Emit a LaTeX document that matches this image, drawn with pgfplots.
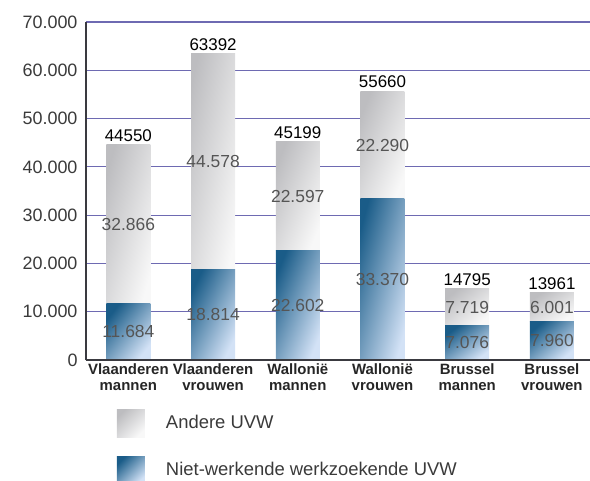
\documentclass[border=0pt]{standalone}
\usepackage{pgfplots}
\pgfplotsset{compat=1.18}
\usepackage{pgfplotstable}
\usepackage{fontspec}
\setmainfont{Liberation Sans}
\usetikzlibrary{calc}
\definecolor{gridc}{HTML}{6E6AB2}
\definecolor{axc}{HTML}{3A3A40}
\definecolor{blueA}{HTML}{1A5C88}
\definecolor{blueB}{HTML}{D3E2F6}
\definecolor{grayA}{HTML}{BDBDC0}
\definecolor{grayB}{HTML}{F8F8F8}
\definecolor{lab}{HTML}{555555}
\definecolor{tick}{HTML}{3A3A3A}

% values in thousands (labels), totals in units
\pgfplotstableread{
x niet andere tot total
0 11.684 32.866 44.550 44550
1 18.814 44.578 63.392 63392
2 22.602 22.597 45.199 45199
3 33.370 22.290 55.660 55660
4 7.076 7.719 14.795 14795
5 7.960 6.001 13.961 13961
}\data

\pgfplotsset{
  base/.style={scale only axis, width=504bp, height=338bp,
    xmin=-0.5, xmax=5.45, ymin=0, ymax=70, at={(0,0)}, anchor=south west},
  catax/.style={base, hide axis, ybar stacked, bar width=44bp},
  bluebar/.style={draw=none, top color=blueA, bottom color=blueB, shading angle=#1},
  graybar/.style={draw=none, top color=grayA, bottom color=grayB, shading angle=#1},
  seglab/.style={draw=none, mark=none, point meta=explicit,
    nodes near coords={\pgfmathprintnumber[fixed,precision=3,zerofill]{\pgfplotspointmeta}},
    every node near coord/.append style={anchor=center, text=lab, font=\fontsize{17.5}{19}\selectfont}},
}
% #1 x, #2 bottom value, #3 top value, #4/#5 gradient angles (corner to corner)
\newcommand\cat[5]{%
\begin{axis}[catax]
\addplot[bluebar=#4] coordinates {(#1,#2)};
\addplot[graybar=#5] coordinates {(#1,#3)};
\end{axis}}

\begin{document}
\begin{tikzpicture}
% main axis: grid, ticks, legend
\begin{axis}[base,
  name=ax,
  legend image code/.code={\path[#1] (0bp,-14bp) rectangle (28bp,14bp);},
  axis x line*=bottom, axis y line*=left,
  x axis line style={axc, line width=1.8bp},
  y axis line style={axc, line width=1.2bp},
  ytick={0,10,...,70},
  yticklabels={0,10.000,20.000,30.000,40.000,50.000,60.000,70.000},
  ymajorgrids, major grid style={gridc, line width=1.2bp},
  xtick={0,...,5},
  xticklabels={{Vlaanderen\\mannen},{Vlaanderen\\vrouwen},{Wallonië\\mannen},{Wallonië\\vrouwen},{Brussel\\mannen},{Brussel\\vrouwen}},
  xticklabel style={align=center, font=\bfseries\fontsize{15}{16.5}\selectfont, text=black!85},
  yticklabel style={font=\fontsize{18}{20}\selectfont, text=tick, xshift=-5bp},
  major tick length=0pt, tick style={draw=none},
  legend cell align=left,
  legend style={at={(axis description cs:0,0)}, anchor=north west, xshift=31bp, yshift=-49bp,
    draw=none, fill=none, inner sep=0pt, outer sep=0pt, row sep=19bp,
    font=\fontsize{18.5}{20}\selectfont, text=tick,
    /tikz/every odd column/.append style={column sep=19bp}},
]
\addlegendimage{draw=none, top color=grayA, bottom color=grayB, shading angle=45}
\addlegendentry{Andere UVW}
\addlegendimage{draw=none, top color=blueA, bottom color=blueB, shading angle=45}
\addlegendentry{Niet-werkende werkzoekende UVW}
\end{axis}
% bars, one axis per category so each segment has its own gradient
\cat{0}{11.684}{32.866}{52}{74.5}
\cat{1}{18.814}{44.578}{64}{78.4}
\cat{2}{22.602}{22.597}{68}{68}
\cat{3}{33.370}{22.290}{74.7}{67.8}
\cat{4}{7.076}{7.719}{37.8}{40.3}
\cat{5}{7.960}{6.001}{41.2}{33.4}
% labels and axis lines on top
\begin{axis}[base,
  /pgf/number format/assume math mode=true,
  axis x line*=bottom, axis y line*=left,
  x axis line style={axc, line width=1.8bp},
  y axis line style={axc, line width=1.2bp},
  xtick=\empty, ytick=\empty]
\addplot[seglab] table[x=x, y expr=\thisrow{niet}/2, meta=niet] {\data};
\addplot[seglab] table[x=x, y expr=\thisrow{niet}+\thisrow{andere}/2, meta=andere] {\data};
\addplot[draw=none, mark=none, point meta=explicit,
  nodes near coords={\pgfmathprintnumber[fixed,precision=0,1000 sep={}]{\pgfplotspointmeta}},
  every node near coord/.append style={anchor=south, text=black, font=\fontsize{17}{19}\selectfont, inner sep=3bp}]
  table[x=x, y=tot, meta=total] {\data};
\end{axis}
\pgfresetboundingbox
\useasboundingbox ($(ax.south west)+(-86bp,-121bp)$) rectangle ($(ax.north east)+(0bp,22bp)$);
\end{tikzpicture}
\end{document}
